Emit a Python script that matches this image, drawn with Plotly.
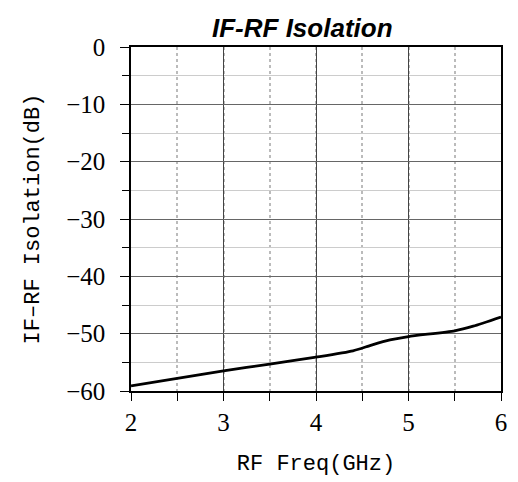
import plotly.graph_objects as go

freq_ghz = [2.0, 2.5, 3.0, 3.5, 4.0, 4.4, 4.6, 4.8, 5.0, 5.5, 5.7, 6.0]
isolation_db = [-59.1, -57.8, -56.5, -55.3, -54.1, -53.0, -52.0, -51.1, -50.5, -49.5, -48.7, -47.1]

x_ticks = [2, 3, 4, 5, 6]
y_ticks = [0, -10, -20, -30, -40, -50, -60]
y_tick_text = ["0", "\u221210", "\u221220", "\u221230", "\u221240", "\u221250", "\u221260"]

fig = go.Figure()
fig.add_trace(go.Scatter(x=freq_ghz, y=isolation_db, mode="lines",
                         line=dict(color="black", width=2.8, shape="spline", smoothing=0.6),
                         showlegend=False, hoverinfo="skip"))

fig.update_layout(
    width=510, height=474,
    margin=dict(l=123, r=11, t=39, b=91),
    paper_bgcolor="white", plot_bgcolor="white",
    title=dict(text="<b><i>IF-RF Isolation</i></b>", x=0.577, xanchor="center", y=0.958, yanchor="middle",
               font=dict(family="Liberation Sans", size=26, color="black")),
    xaxis=dict(range=[2, 6], tickvals=x_ticks, ticktext=[str(v) for v in x_ticks],
               ticks="outside", ticklen=8, tickcolor="black",
               showline=True, linecolor="black", linewidth=1.5, mirror=True,
               showgrid=True, gridcolor="#444444", gridwidth=1,
               minor=dict(dtick=0.5, tick0=2, ticks="outside", ticklen=8, tickcolor="black",
                          showgrid=True, gridcolor="#bbbbbb", griddash="dot", gridwidth=1.5),
               tickfont=dict(family="Liberation Serif", size=25, color="black"),
               title=dict(text="RF Freq(GHz)", standoff=20,
                          font=dict(family="Liberation Mono", size=22, color="black")),
               zeroline=False),
    yaxis=dict(range=[-60, 0], tickvals=y_ticks, ticktext=y_tick_text,
               ticks="outside", ticklen=9, tickcolor="black",
               showline=True, linecolor="black", linewidth=1.5, mirror=True,
               showgrid=True, gridcolor="#666666", gridwidth=1,
               minor=dict(dtick=5, tick0=0, ticks="outside", ticklen=7, tickcolor="black",
                          showgrid=True, gridcolor="#cccccc", gridwidth=1),
               tickfont=dict(family="Liberation Serif", size=25, color="black"),
               ticklabelstandoff=10,
               title=dict(text="IF\u2013RF Isolation(dB)", standoff=20,
                          font=dict(family="Liberation Mono", size=22, color="black")),
               zeroline=False),
)

fig.write_html("out.html")
